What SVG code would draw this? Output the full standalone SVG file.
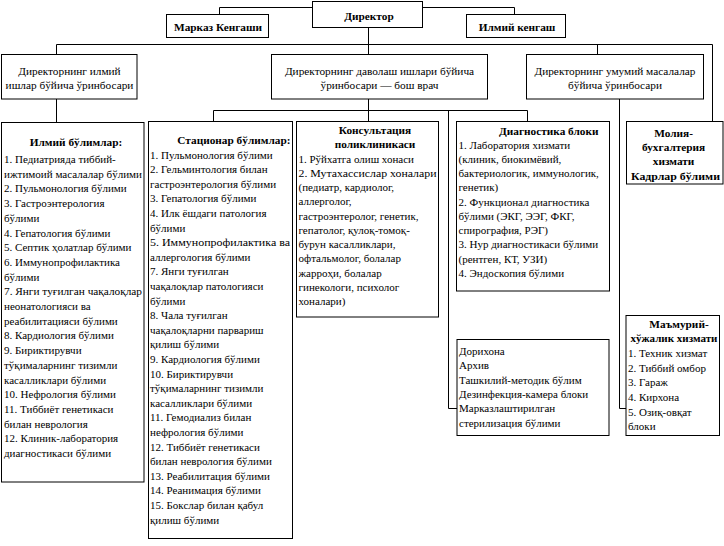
<svg xmlns="http://www.w3.org/2000/svg" width="724" height="546" viewBox="0 0 724 546">
<style>
  .bg { fill: #ffffff; }
  .box { fill: #ffffff; stroke: #000000; stroke-width: 1; }
  .ln { fill: none; stroke: #000000; stroke-width: 1; }
  text { font-family: "Liberation Serif", "Times New Roman", serif; font-size: 11px; fill: #000000; }
  .d { font-size: 11.3px; }
  .b { font-weight: bold; font-size: 11.3px; }
  .c { text-anchor: middle; }
  .e { text-anchor: end; }
</style>
<rect class="bg" x="0" y="0" width="724" height="546"/>

<g id="connectors">
  <polyline class="ln" points="312,7.5 219.5,7.5 219.5,14.5"/>
  <polyline class="ln" points="422.5,7.5 514.5,7.5 514.5,14.5"/>
  <line class="ln" x1="368.5" y1="27.5" x2="368.5" y2="44.5"/>
  <line class="ln" x1="56.5" y1="44.5" x2="712.5" y2="44.5"/>
  <line class="ln" x1="56.5" y1="44.5" x2="56.5" y2="54.5"/>
  <line class="ln" x1="368.5" y1="44.5" x2="368.5" y2="54.5"/>
  <line class="ln" x1="597.5" y1="44.5" x2="597.5" y2="54.5"/>
  <line class="ln" x1="712.5" y1="44.5" x2="712.5" y2="121.5"/>
  <line class="ln" x1="56.5" y1="99" x2="56.5" y2="122.5"/>
  <line class="ln" x1="368.5" y1="99" x2="368.5" y2="121.5"/>
  <line class="ln" x1="213.5" y1="110.5" x2="527.5" y2="110.5"/>
  <line class="ln" x1="213.5" y1="110.5" x2="213.5" y2="121.5"/>
  <line class="ln" x1="527.5" y1="110.5" x2="527.5" y2="121.5"/>
  <polyline class="ln" points="448.5,110.5 448.5,408.5 457,408.5"/>
  <polyline class="ln" points="619.5,99 619.5,408.5 626,408.5"/>
</g>

<g id="director">
  <rect class="box" x="312.5" y="1.5" width="110" height="26"/>
  <text class="b c" x="369" y="20">Директор</text>
</g>

<g id="markaz-kengashi">
  <rect class="box" x="166.5" y="14.5" width="102" height="23"/>
  <text class="b c" x="218" y="31">Марказ Кенгаши</text>
</g>

<g id="ilmiy-kengash">
  <rect class="box" x="466.5" y="14.5" width="99" height="23"/>
  <text class="b c" x="517" y="31">Илмий кенгаш</text>
</g>

<g id="deputy-science">
  <rect class="box" x="1.5" y="54.5" width="135.5" height="44.5"/>
  <text class="c d"><tspan x="69.5" y="75">Директорнинг илмий</tspan><tspan x="69.5" y="89">ишлар бўйича ўринбосари</tspan></text>
</g>

<g id="deputy-treatment">
  <rect class="box" x="271.5" y="54.5" width="216" height="44.5"/>
  <text class="c d"><tspan x="379.5" y="75">Директорнинг даволаш ишлари бўйича</tspan><tspan x="379.5" y="89">ўринбосари — бош врач</tspan></text>
</g>

<g id="deputy-general">
  <rect class="box" x="526.5" y="54.5" width="177" height="44.5"/>
  <text class="c d"><tspan x="615" y="75">Директорнинг умумий масалалар</tspan><tspan x="615" y="89">бўйича ўринбосари</tspan></text>
</g>

<g id="ilmiy-bulimlar">
  <rect class="box" x="1.5" y="122.5" width="142.5" height="359.5"/>
  <text class="b c" x="76" y="146">Илмий бўлимлар:</text>
  <text>
    <tspan x="4" y="163">1. Педиатрияда тиббий-</tspan>
    <tspan x="4" y="177.7" textLength="138" lengthAdjust="spacingAndGlyphs">ижтимоий масалалар бўлими</tspan>
    <tspan x="4" y="192.4">2. Пульмонология бўлими</tspan>
    <tspan x="4" y="207.1">3. Гастроэнтерология</tspan>
    <tspan x="4" y="221.8">бўлими</tspan>
    <tspan x="4" y="236.5">4. Гепатология бўлими</tspan>
    <tspan x="4" y="251.2">5. Септик ҳолатлар бўлими</tspan>
    <tspan x="4" y="265.9">6. Иммунопрофилактика</tspan>
    <tspan x="4" y="280.6">бўлими</tspan>
    <tspan x="4" y="295.3" textLength="138" lengthAdjust="spacingAndGlyphs">7. Янги туғилган чақалоқлар</tspan>
    <tspan x="4" y="310">неонатологияси ва</tspan>
    <tspan x="4" y="324.7">реабилитацияси бўлими</tspan>
    <tspan x="4" y="339.4">8. Кардиология бўлими</tspan>
    <tspan x="4" y="354.1">9. Бириктирувчи</tspan>
    <tspan x="4" y="368.8">тўқималарнинг тизимли</tspan>
    <tspan x="4" y="383.5">касалликлари бўлими</tspan>
    <tspan x="4" y="398.2">10. Нефрология бўлими</tspan>
    <tspan x="4" y="412.9">11. Тиббиёт генетикаси</tspan>
    <tspan x="4" y="427.6">билан неврология</tspan>
    <tspan x="4" y="442.3">12. Клиник-лаборатория</tspan>
    <tspan x="4" y="457">диагностикаси бўлими</tspan>
  </text>
</g>

<g id="statsionar-bulimlar">
  <rect class="box" x="148.5" y="121.5" width="144" height="417"/>
  <text class="b e" x="290.5" y="144">Стационар бўлимлар:</text>
  <text>
    <tspan x="150" y="158.5">1. Пульмонология бўлими</tspan>
    <tspan x="150" y="173.1">2. Гельминтология билан</tspan>
    <tspan x="150" y="187.7">гастроэнтерология бўлими</tspan>
    <tspan x="150" y="202.3">3. Гепатология бўлими</tspan>
    <tspan x="150" y="216.9">4. Илк ёшдаги патология</tspan>
    <tspan x="150" y="231.5">бўлими</tspan>
    <tspan x="150" y="246.1" textLength="140" lengthAdjust="spacingAndGlyphs">5. Иммунопрофилактика ва</tspan>
    <tspan x="150" y="260.7">аллергология бўлими</tspan>
    <tspan x="150" y="275.3">7. Янги туғилган</tspan>
    <tspan x="150" y="289.9">чақалоқлар патологияси</tspan>
    <tspan x="150" y="304.5">бўлими</tspan>
    <tspan x="150" y="319.1">8. Чала туғилган</tspan>
    <tspan x="150" y="333.7">чақалоқларни парвариш</tspan>
    <tspan x="150" y="348.3">қилиш бўлими</tspan>
    <tspan x="150" y="362.9">9. Кардиология бўлими</tspan>
    <tspan x="150" y="377.5">10. Бириктирувчи</tspan>
    <tspan x="150" y="392.1">тўқималарнинг тизимли</tspan>
    <tspan x="150" y="406.7">касалликлари бўлими</tspan>
    <tspan x="150" y="421.3">11. Гемодиализ билан</tspan>
    <tspan x="150" y="435.9">нефрология бўлими</tspan>
    <tspan x="150" y="450.5">12. Тиббиёт генетикаси</tspan>
    <tspan x="150" y="465.1">билан неврология бўлими</tspan>
    <tspan x="150" y="479.7">13. Реабилитация бўлими</tspan>
    <tspan x="150" y="494.3">14. Реанимация бўлими</tspan>
    <tspan x="150" y="508.9">15. Бокслар билан қабул</tspan>
    <tspan x="150" y="523.5">қилиш бўлими</tspan>
  </text>
</g>

<g id="konsultatsiya">
  <rect class="box" x="296.5" y="121.5" width="142" height="195.5"/>
  <text class="b c"><tspan x="375" y="134">Консультация</tspan><tspan x="375" y="148.3">поликлиникаси</tspan></text>
  <text>
    <tspan x="298.5" y="162.5">1. Рўйхатга олиш хонаси</tspan>
    <tspan x="298.5" y="176.8" textLength="138" lengthAdjust="spacingAndGlyphs">2. Мутахассислар хоналари</tspan>
    <tspan x="298.5" y="191">(педиатр, кардиолог,</tspan>
    <tspan x="298.5" y="205.3">аллерголог,</tspan>
    <tspan x="298.5" y="219.5">гастроэнтеролог, генетик,</tspan>
    <tspan x="298.5" y="233.8">гепатолог, қулоқ-томоқ-</tspan>
    <tspan x="298.5" y="248">бурун касалликлари,</tspan>
    <tspan x="298.5" y="262.3">офтальмолог, болалар</tspan>
    <tspan x="298.5" y="276.5">жарроҳи, болалар</tspan>
    <tspan x="298.5" y="290.8">гинекологи, психолог</tspan>
    <tspan x="298.5" y="305">хоналари)</tspan>
  </text>
</g>

<g id="diagnostika">
  <rect class="box" x="456.5" y="121.5" width="153" height="169.5"/>
  <text class="b" x="499" y="134.5">Диагностика блоки</text>
  <text>
    <tspan x="458.5" y="148.7">1. Лаборатория хизмати</tspan>
    <tspan x="458.5" y="163">(клиник, биокимёвий,</tspan>
    <tspan x="458.5" y="177.2">бактериологик, иммунологик,</tspan>
    <tspan x="458.5" y="191.4">генетик)</tspan>
    <tspan x="458.5" y="205.6">2. Функционал диагностика</tspan>
    <tspan x="458.5" y="219.9">бўлими (ЭКГ, ЭЭГ, ФКГ,</tspan>
    <tspan x="458.5" y="234.1">спирография, РЭГ)</tspan>
    <tspan x="458.5" y="248.3">3. Нур диагностикаси бўлими</tspan>
    <tspan x="458.5" y="262.5">(рентген, КТ, УЗИ)</tspan>
    <tspan x="458.5" y="276.8">4. Эндоскопия бўлими</tspan>
  </text>
</g>

<g id="moliya">
  <rect class="box" x="626.5" y="121.5" width="96.5" height="62.5"/>
  <text class="b c">
    <tspan x="675" y="137">Молия-</tspan>
    <tspan x="675" y="151.2">бухгалтерия</tspan>
    <tspan x="675" y="165.4">хизмати</tspan>
    <tspan x="675.5" y="179.6" textLength="89" lengthAdjust="spacingAndGlyphs">Кадрлар бўлими</tspan>
  </text>
</g>

<g id="dorixona">
  <rect class="box" x="457" y="339.5" width="152" height="96"/>
  <text>
    <tspan x="459" y="355">Дорихона</tspan>
    <tspan x="459" y="369.3">Архив</tspan>
    <tspan x="459" y="383.6">Ташкилий-методик бўлим</tspan>
    <tspan x="459" y="397.9">Дезинфекция-камера блоки</tspan>
    <tspan x="459" y="412.2">Марказлаштирилган</tspan>
    <tspan x="459" y="426.5">стерилизация бўлими</tspan>
  </text>
</g>

<g id="mamuriy">
  <rect class="box" x="626" y="315.5" width="93.5" height="120"/>
  <text class="b c"><tspan x="679" y="327.5">Маъмурий-</tspan><tspan x="674" y="342" textLength="87" lengthAdjust="spacingAndGlyphs">хўжалик хизмати</tspan></text>
  <text>
    <tspan x="628" y="356.8">1. Техник хизмат</tspan>
    <tspan x="628" y="371.5">2. Тиббий омбор</tspan>
    <tspan x="628" y="386.2">3. Гараж</tspan>
    <tspan x="628" y="400.9">4. Кирхона</tspan>
    <tspan x="628" y="415.6">5. Озиқ-овқат</tspan>
    <tspan x="628" y="430.3">блоки</tspan>
  </text>
</g>
</svg>
